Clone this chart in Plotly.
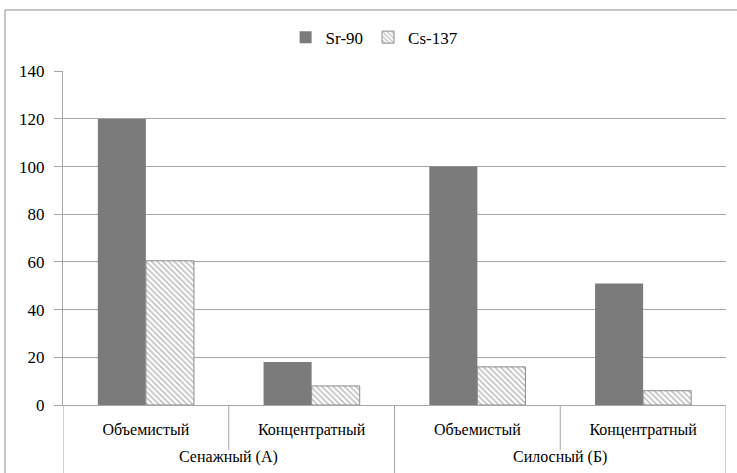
import plotly.graph_objects as go

groups = ["Сенажный (А)", "Силосный (Б)"]
inner = ["Объемистый", "Концентратный", "Объемистый", "Концентратный"]
sr90 = [120, 18, 100, 51]
cs137 = [60.5, 8, 16, 6]
yticks = [0, 20, 40, 60, 80, 100, 120, 140]

FONT = "Times New Roman"
LINE = "#a6a6a6"
xpos = list(range(len(inner)))

fig = go.Figure()
fig.add_trace(go.Bar(
    name="Sr-90", x=xpos, y=sr90,
    marker=dict(color="#7b7b7b", line=dict(color="#7b7b7b", width=0)),
))
fig.add_trace(go.Bar(
    name="Cs-137", x=xpos, y=cs137,
    marker=dict(color="white", line=dict(color="#8c8c8c", width=1),
                pattern=dict(shape="\\", fgcolor="#808080", bgcolor="white", size=4, solidity=0.4)),
))

shapes = []
for b in [0.5, 2.5]:
    shapes.append(dict(type="line", xref="x", yref="paper", x0=b, x1=b, y0=0, y1=-0.135,
                       line=dict(color=LINE, width=1)))
for b in [-0.5, 1.5, 3.5]:
    shapes.append(dict(type="line", xref="x", yref="paper", x0=b, x1=b, y0=0, y1=-0.3,
                       line=dict(color=LINE, width=1)))
shapes.append(dict(type="rect", xref="paper", yref="paper", x0=-0.0875, x1=1.05, y0=-0.3, y1=1.1826,
                   line=dict(color="#8c8c8c", width=1), fillcolor="rgba(0,0,0,0)", layer="below"))

annotations = []
for i, g in enumerate(groups):
    annotations.append(dict(text=g, xref="x", yref="paper", x=2 * i + 0.5, y=-0.156,
                            xanchor="center", yanchor="middle", showarrow=False,
                            font=dict(family=FONT, size=16, color="#000")))

fig.update_layout(
    width=737, height=473,
    margin=dict(l=63, r=11, t=71, b=68),
    paper_bgcolor="white", plot_bgcolor="white",
    font=dict(family=FONT, size=16, color="#000000"),
    barmode="group", bargap=0.42, bargroupgap=0,
    showlegend=True,
    legend=dict(orientation="h", x=0.47, xanchor="center", y=1.1, yanchor="middle",
                font=dict(family=FONT, size=17), itemwidth=30, traceorder="normal"),
    xaxis=dict(range=[-0.5, 3.5], tickvals=xpos, ticktext=inner, showline=True,
               linecolor=LINE, linewidth=1, ticks="", showgrid=False, zeroline=False,
               tickfont=dict(family=FONT, size=16), ticklabelstandoff=10),
    yaxis=dict(range=[0, 140.1], tickvals=yticks, showgrid=True, gridcolor=LINE,
               gridwidth=1, zeroline=False, showline=True, linecolor=LINE, linewidth=1,
               ticks="outside", ticklen=8, tickcolor=LINE,
               tickfont=dict(family=FONT, size=17), ticklabelstandoff=6),
    shapes=shapes,
    annotations=annotations,
)
fig.write_html("out.html", config={"displayModeBar": False},
               post_script="document.body.style.margin='0';")
